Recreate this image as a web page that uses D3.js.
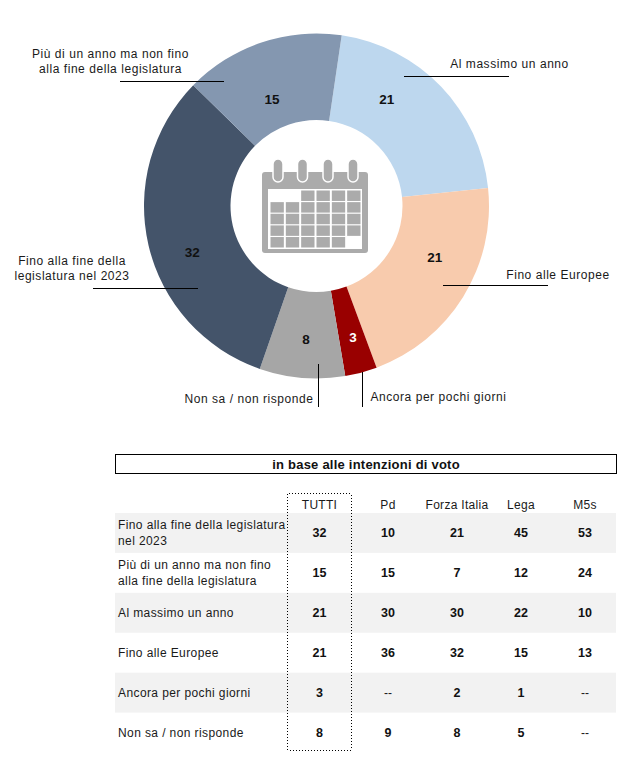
<!DOCTYPE html>
<html><head><meta charset="utf-8">
<script src="https://cdn.jsdelivr.net/npm/d3@7"></script>
<style>
html,body{margin:0;padding:0;background:#fff}
svg{display:block}
text{font-family:"Liberation Sans",Arial,sans-serif;font-size:12px;fill:#1a1a1a}
.ls{letter-spacing:.55px}
.rl{letter-spacing:.4px}
.h{letter-spacing:.3px}
.b{font-weight:bold;fill:#111;font-size:12.5px}
.v{font-size:13.5px}
.title{font-size:13px;letter-spacing:.23px}
</style></head><body>
<div id="c"></div>
<script>
// ---- data ----
const sliceKeys = ["Al massimo un anno","Fino alle Europee","Ancora per pochi giorni","Non sa / non risponde","Fino alla fine della legislatura nel 2023","Più di un anno ma non fino alla fine della legislatura"];
const sliceValues = [21,21,3,8,32,15];
const sliceColors = ["#BDD7EE","#F8CBAD","#990000","#A6A6A6","#44546A","#8497B0"];

const columns = ["TUTTI","Pd","Forza Italia","Lega","M5s"];
const rowLabels = [
  ["Fino alla fine della legislatura","nel 2023"],
  ["Più di un anno ma non fino","alla fine della legislatura"],
  ["Al massimo un anno"],
  ["Fino alle Europee"],
  ["Ancora per pochi giorni"],
  ["Non sa / non risponde"]];
const colTutti = ["32","15","21","21","3","8"];
const colPd    = ["10","15","30","36","--","9"];
const colFI    = ["21","7","30","32","2","8"];
const colLega  = ["45","12","22","15","1","5"];
const colM5s   = ["53","24","10","13","--","--"];
const tableCols = [colTutti,colPd,colFI,colLega,colM5s];
const tableTitle = "in base alle intenzioni di voto";

// ---- layout ----
const W=625,H=762,cx=316.5,cy=206,R=172.5,r0=86;
const svg=d3.select("#c").append("svg").attr("width",W).attr("height",H);
const pie=d3.pie().sort(null).startAngle(8.4*Math.PI/180).endAngle((360+8.4)*Math.PI/180);
const arc=d3.arc().innerRadius(r0).outerRadius(R);
const arcs=pie(sliceValues);
const g=svg.append("g").attr("transform",`translate(${cx},${cy})`);
g.selectAll("path").data(arcs).join("path").attr("d",arc).attr("fill",(d,i)=>sliceColors[i]);

// value labels: nudged off each centroid, as in the original
const nudges=[[-23,-17.4],[8.5,-17.2],[3,6],[.3,4],[1.7,16.9],[-3.2,15.7]];
g.selectAll("text.v").data(arcs).join("text").attr("class","v b")
  .attr("text-anchor","middle").attr("dy","0.36em")
  .attr("x",(d,i)=>arc.centroid(d)[0]+nudges[i][0])
  .attr("y",(d,i)=>arc.centroid(d)[1]+nudges[i][1])
  .style("fill",(d,i)=>i===2?"#fff":"#111")
  .text(d=>d.value);

// leaders
const leaders=[[404,76,509,76],[443,285,548,285],[362,372,362,407],[318,364,318,407],[93,288,198,288],[120,81,224,81]];
svg.selectAll("line.l").data(leaders).join("line").attr("class","l")
  .attr("x1",d=>d[0]).attr("y1",d=>d[1]).attr("x2",d=>d[2]).attr("y2",d=>d[3])
  .attr("stroke","#000").attr("stroke-width",1).attr("shape-rendering","crispEdges");

// slice names
const names=[
 [["Al massimo un anno"],509.5,67.5],
 [["Fino alle Europee"],558,278.5],
 [["Ancora per pochi giorni"],438.5,400.5],
 [["Non sa / non risponde"],249,402.5],
 [["Fino alla fine della","legislatura nel 2023"],72,265],
 [["Più di un anno ma non fino","alla fine della legislatura"],110.5,57.5]];
names.forEach(n=>{
  const t=svg.append("text").attr("class","ls").attr("text-anchor","middle");
  n[0].forEach((s,i)=>t.append("tspan").attr("x",n[1]).attr("y",n[2]+i*15).text(s));
});

// calendar icon
const ic=svg.append("g");
const iconColor="#ABABAB";
ic.append("rect").attr("x",262).attr("y",172).attr("width",106).attr("height",81).attr("rx",3).attr("fill",iconColor);
ic.append("rect").attr("x",268).attr("y",189).attr("width",94).attr("height",60).attr("fill","#fff");
const ringX=[278,302.5,328,353];
ic.selectAll("rect.ring").data(ringX).join("rect").attr("class","ring")
  .attr("x",d=>d-5).attr("y",159).attr("width",10).attr("height",23).attr("rx",5)
  .attr("fill",iconColor).attr("stroke","#fff").attr("stroke-width",1.5);
const gridRows=[[2,3,4,5],[0,1,2,3,4,5],[0,1,2,3,4,5],[0,1,2,3,4,5],[0,1,2,3,4]];
const gx=d3.scaleBand().domain(d3.range(6)).range([270.5,360.5]).paddingInner(.13);
const gy=d3.scaleBand().domain(d3.range(5)).range([190.5,247.5]).paddingInner(.1);
gridRows.forEach((cols,ri)=>{
  ic.selectAll(`rect.c${ri}`).data(cols).join("rect").attr("class",`c${ri}`)
    .attr("x",c=>gx(c)).attr("y",gy(ri)).attr("width",gx.bandwidth()).attr("height",gy.bandwidth())
    .attr("fill",iconColor);
});

// table
svg.append("rect").attr("x",115.5).attr("y",454.5).attr("width",501).attr("height",19)
  .attr("fill","#fff").attr("stroke","#000");
svg.append("text").attr("class","b title").attr("x",366).attr("y",468.5).attr("text-anchor","middle").text(tableTitle);

const y=d3.scaleBand().domain(d3.range(rowLabels.length)).range([513,752.5]);
const x=d3.scaleOrdinal().domain(columns).range([319.5,388,457,521,585]);
svg.selectAll("rect.band").data(d3.range(rowLabels.length).filter(i=>i%2===0)).join("rect").attr("class","band")
  .attr("x",115).attr("width",501).attr("y",d=>y(d)).attr("height",y.bandwidth()).attr("fill","#F2F2F2");
svg.append("rect").attr("x",287.5).attr("y",493.5).attr("width",64).attr("height",257).attr("rx",1.5)
  .attr("fill","none").attr("stroke","#000").attr("stroke-dasharray","1,2")
  .attr("shape-rendering","crispEdges");
svg.selectAll("text.h").data(columns).join("text").attr("class","h")
  .attr("x",d=>x(d)).attr("y",509).attr("text-anchor","middle").text(d=>d);
rowLabels.forEach((lines,i)=>{
  const t=svg.append("text").attr("class","rl");
  const mid=y(i)+y.bandwidth()/2;
  lines.forEach((s,k)=>t.append("tspan").attr("x",118)
    .attr("y",mid+4+(k-(lines.length-1)/2)*16).text(s));
});
columns.forEach((c,j)=>{
  svg.selectAll(`text.col${j}`).data(tableCols[j]).join("text").attr("class",`col${j}`)
    .attr("x",x(c)).attr("y",(d,i)=>y(i)+y.bandwidth()/2+4.5)
    .attr("text-anchor","middle")
    .classed("b",d=>d!=="--").text(d=>d);
});
</script></body></html>
